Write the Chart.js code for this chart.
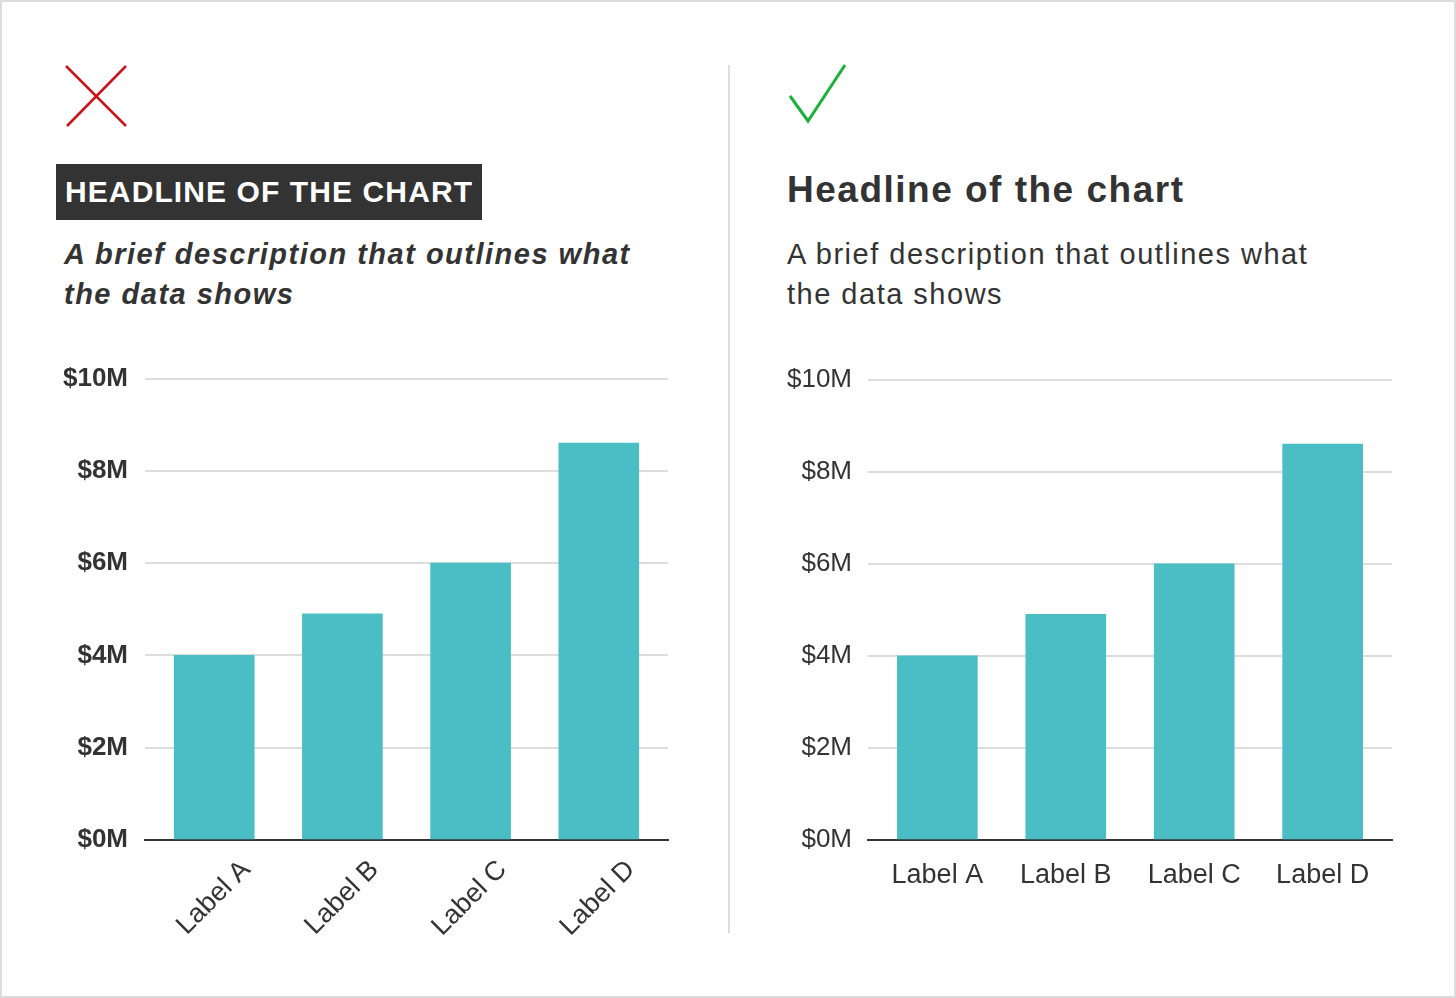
<!DOCTYPE html>
<html>
<head>
<meta charset="utf-8">
<script src="https://cdn.jsdelivr.net/npm/chart.js@4"></script>
<style>
  html, body { margin: 0; padding: 0; background: #fff; }
  body { width: 1456px; height: 998px; position: relative; overflow: hidden;
         font-family: "Liberation Sans", Arial, sans-serif; color: #333; }
  .frame { position: absolute; left: 0; top: 0; width: 1456px; height: 998px;
           box-sizing: border-box; border: 2px solid #ddd; }
  .divider { position: absolute; left: 728px; top: 65px; width: 2px; height: 868px; background: #ddd; }
  .head-bad { position: absolute; left: 56px; top: 164px; height: 56px; line-height: 56px;
              padding: 0 9px; background: #333; color: #fff; font-weight: bold; font-size: 30px;
              letter-spacing: 1.1px; }
  .desc-bad { position: absolute; left: 64px; top: 234px; width: 660px; font-size: 29px; line-height: 40px;
              font-weight: bold; font-style: italic; letter-spacing: 1.5px; }
  .head-good { position: absolute; left: 787px; top: 168px; font-size: 37px; line-height: 44px; font-weight: bold;
               letter-spacing: 1.5px; }
  .desc-good { position: absolute; left: 787px; top: 234px; width: 640px; font-size: 29px; line-height: 40px;
               letter-spacing: 1.5px; }
  .box { position: absolute; }
</style>
</head>
<body>
<div class="frame"></div>

<svg style="position:absolute;left:0;top:0" width="1456" height="200">
  <line x1="66" y1="66" x2="126" y2="126" stroke="#c4161c" stroke-width="2.5"/>
  <line x1="126" y1="66" x2="67" y2="126" stroke="#c4161c" stroke-width="2.5"/>
  <polyline points="790,96 808,121 845,65" fill="none" stroke="#1db03a" stroke-width="3"/>
</svg>

<div class="head-bad">HEADLINE OF THE CHART</div>
<div class="desc-bad">A brief description that outlines what<br>the data shows</div>
<div class="divider"></div>
<div class="head-good">Headline of the chart</div>
<div class="desc-good">A brief description that outlines what<br>the data shows</div>

<div class="box" style="left:40px;top:346px;width:630px;height:614px"><canvas id="bad"></canvas></div>
<div class="box" style="left:760px;top:348px;width:634px;height:572px"><canvas id="good"></canvas></div>

<script>
var categories = ['Label A', 'Label B', 'Label C', 'Label D'];
var values = [4.0, 4.9, 6.0, 8.6];
var yTicks = [0, 2, 4, 6, 8, 10];

var barColor = '#4bbec5';

function makeChart(id, bold, rotated) {
    var ctx = document.getElementById(id).getContext('2d');
    return new Chart(ctx, {
        type: 'bar',
        data: {
            datasets: [{
                data: values.map(function (v, i) { return { x: i, y: v }; }),
                backgroundColor: barColor,
                barThickness: 80
            }]
        },
        options: {
            responsive: true,
            maintainAspectRatio: false,
            animation: false,
            layout: { padding: { top: 19, right: 2, left: 0, bottom: 0 } },
            plugins: { legend: { display: false }, tooltip: { enabled: false } },
            scales: {
                x: {
                    type: 'linear',
                    offset: false,
                    min: -0.54,
                    max: categories.length - 1 + 0.54,
                    grid: { display: false },
                    border: { color: '#333', width: 2 },
                    afterBuildTicks: function (axis) {
                        axis.ticks = categories.map(function (c, i) { return { value: i }; });
                    },
                    ticks: {
                        color: '#333',
                        font: { family: 'Liberation Sans', size: 27 },
                        maxRotation: rotated ? 45 : 0,
                        minRotation: rotated ? 45 : 0,
                        padding: rotated ? 6 : 11,
                        labelOffset: rotated ? 32 : 0,
                        callback: function (v) { return categories[v]; }
                    },
                    afterFit: function (axis) { axis.height = rotated ? 120 : 80; }
                },
                y: {
                    min: yTicks[0],
                    max: yTicks[yTicks.length - 1],
                    grid: { color: '#ddd', lineWidth: 2, drawTicks: false },
                    border: { display: false },
                    ticks: {
                        stepSize: 2,
                        padding: bold ? 17 : 16,
                        color: '#333',
                        font: { family: 'Liberation Sans', size: 26, weight: bold ? 'bold' : 'normal' },
                        callback: function (v) { return '$' + v + 'M'; }
                    },
                    afterFit: function (axis) { axis.width = bold ? 105 : 108; }
                }
            }
        }
    });
}

makeChart('bad', true, true);
makeChart('good', false, false);
</script>
</body>
</html>
